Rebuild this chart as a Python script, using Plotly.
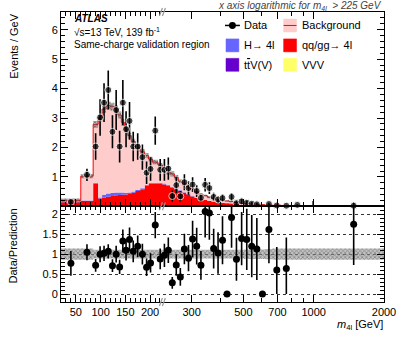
import numpy as np
import plotly.graph_objects as go
from plotly.subplots import make_subplots

# ---------------- data ----------------
bin_edges = [20, 60, 85, 95, 103, 111, 120, 128, 135, 142, 148, 155, 162, 170, 180, 189, 197, 205, 216, 225,
             234, 243, 253, 263, 274, 285, 297, 309, 322, 336, 350, 365, 381, 398, 416, 435, 455, 479, 504, 530,
             556, 586, 621, 666, 725, 804, 900, 1100, 2000]

data_obs = [0.15, 1.07, 2.03, 3.02, 3.52, 3.95, 2.53, 3.27, 2.03, 3.52,
            2.62, 2.90, 2.03, 2.03, 1.67, 1.14, 1.27, 2.57, 1.24, 1.24,
            1.28, 0.35, 0.72, 0.34, 0.82, 0.62, 0.74, 0.52, 0.29, 0.73,
            0.62, 0.32, 0.23, 0.28, None, 0.32, 0.11, 0.17, 0.12, 0.09,
            0.07, None, 0.08, 0.03, 0.02, 0.05, 0.0, 0.02]
data_err_up = [0.06, 0.21, 0.45, 0.62, 0.66, 0.66, 0.56, 0.68, 0.54, 0.77,
               0.61, 0.64, 0.50, 0.45, 0.43, 0.38, 0.40, 0.48, 0.37, 0.37,
               0.38, 0.19, 0.27, 0.18, 0.27, 0.23, 0.25, 0.20, 0.14, 0.23,
               0.20, 0.14, 0.12, 0.12, 0, 0.13, 0.07, 0.08, 0.07, 0.06,
               0.05, 0, 0.04, 0.02, 0.02, 0.02, 0.18, 0.12]
data_err_dn = [0.06, 0.21, 0.45, 0.62, 0.66, 0.66, 0.56, 0.68, 0.54, 0.77,
               0.61, 0.64, 0.50, 0.45, 0.43, 0.38, 0.40, 0.48, 0.37, 0.37,
               0.38, 0.19, 0.27, 0.18, 0.27, 0.23, 0.25, 0.20, 0.14, 0.23,
               0.20, 0.14, 0.12, 0.12, 0, 0.13, 0.07, 0.08, 0.07, 0.06,
               0.05, 0, 0.04, 0.02, 0.02, 0.02, 0.0, 0.02]

background = [0.04, 0.83, 1.98, 2.70, 2.91, 2.99, 2.92, 2.83, 2.63, 2.38,
              2.16, 1.93, 1.70, 1.45, 1.24, 0.99, 0.81, 0.70, 0.61, 0.51,
              0.43, 0.44, 0.38, 0.31, 0.27, 0.26, 0.23, 0.18, 0.15, 0.14,
              0.12, 0.10, 0.08, 0.08, 0.07, 0.06, 0.045, 0.04, 0.033, 0.028,
              0.02, 0.017, 0.015, 0.013, 0.01, 0.004, 0.002, 0.001]
qqgg_4l = [0.13, 0.16, 0.75, 0.24, 0.27, 0.30, 0.33, 0.35, 0.36, 0.37,
           0.38, 0.40, 0.44, 0.50, 0.56, 0.68, 0.74, 0.75, 0.74, 0.72,
           0.68, 0.62, 0.56, 0.50, 0.44, 0.38, 0.32, 0.27, 0.23, 0.20,
           0.17, 0.15, 0.13, 0.11, 0.10, 0.09, 0.075, 0.065, 0.055, 0.047,
           0.040, 0.034, 0.029, 0.024, 0.018, 0.010, 0.005, 0.003]
higgs_4l = [0.02, 0.02, 0.03, 0.04, 0.10, 0.11, 0.11, 0.10, 0.09, 0.08,
            0.06, 0.05, 0.04, 0.03, 0.03, 0.03, 0.03, 0.03, 0.03, 0.03,
            0.03, 0.02, 0.02, 0.02, 0.02, 0.02, 0.015, 0.015, 0.012, 0.01,
            0.01, 0.008, 0.007, 0.006, 0.005, 0.005, 0.004, 0.003, 0.003, 0.002,
            0.002, 0.002, 0.001, 0.001, 0.001, 0.0005, 0.0003, 0.0002]
ttv = [0.01, 0.015, 0.02, 0.02, 0.02, 0.02, 0.02, 0.02, 0.02, 0.02,
       0.02, 0.02, 0.02, 0.02, 0.02, 0.02, 0.02, 0.02, 0.02, 0.02,
       0.02, 0.02, 0.02, 0.02, 0.018, 0.016, 0.015, 0.014, 0.012, 0.011,
       0.01, 0.009, 0.008, 0.007, 0.006, 0.005, 0.005, 0.004, 0.004, 0.003,
       0.003, 0.002, 0.002, 0.002, 0.001, 0.001, 0.0005, 0.0003]
vvv = [0.002, 0.002, 0.003, 0.003, 0.003, 0.003, 0.003, 0.003, 0.003, 0.003,
       0.003, 0.003, 0.003, 0.003, 0.003, 0.003, 0.003, 0.003, 0.003, 0.003,
       0.003, 0.003, 0.003, 0.003, 0.002, 0.002, 0.002, 0.002, 0.002, 0.002,
       0.001, 0.001, 0.001, 0.001, 0.001, 0.001, 0.001, 0.001, 0.0005, 0.0005,
       0.0005, 0.0005, 0.0005, 0.0005, 0.0003, 0.0002, 0.0001, 0.0001]
mc_unc_top = [0.30, 0.07, 0.04, 0.04, 0.04, 0.04, 0.04, 0.04, 0.04, 0.04,
              0.04, 0.04, 0.04, 0.04, 0.05, 0.05, 0.05, 0.05, 0.05, 0.05,
              0.08, 0.08, 0.08, 0.08, 0.08, 0.08, 0.08, 0.08, 0.08, 0.08,
              0.12, 0.12, 0.12, 0.12, 0.12, 0.12, 0.12, 0.12, 0.12, 0.12,
              0.15, 0.15, 0.15, 0.15, 0.15, 0.15, 0.15, 0.15]

ratio_vals = [0.77, 1.05, 0.72, 1.00, 1.02, 1.07, 0.71, 1.00, 0.68, 1.33,
              1.10, 1.37, 1.07, 1.20, 1.00, 0.67, 0.78, 1.73, 0.88, 0.97,
              1.10, 0.28, 0.73, 0.43, 1.13, 0.90, 1.38, 1.20, 0.72, 2.07,
              2.03, 1.14, 1.03, 1.35, 0.00, 1.92, 0.87, 1.39, 1.37, 1.20,
              1.13, 0.00, 1.62, 0.60, 0.64, None, None, 1.75]
ratio_err_up = [0.31, 0.20, 0.16, 0.20, 0.19, 0.18, 0.16, 0.21, 0.18, 0.29,
                0.26, 0.30, 0.27, 0.27, 0.26, 0.22, 0.24, 0.33, 0.26, 0.29,
                0.32, 0.15, 0.27, 0.22, 0.38, 0.33, 0.46, 0.46, 0.36, 0.65,
                0.67, 0.50, 0.52, 0.60, 0, 0.76, 0.54, 0.67, 0.77, 0.78,
                0.78, 0, 0.85, 0.58, 0.78, 0, 0, 0.60]
ratio_err_dn = [0.31, 0.20, 0.16, 0.20, 0.19, 0.18, 0.16, 0.21, 0.18, 0.29,
                0.26, 0.30, 0.27, 0.27, 0.26, 0.22, 0.24, 0.33, 0.26, 0.29,
                0.32, 0.15, 0.27, 0.22, 0.38, 0.33, 0.46, 0.46, 0.36, 0.65,
                0.67, 0.50, 0.52, 0.60, 0, 0.76, 0.54, 0.67, 0.77, 0.78,
                0.78, 0, 0.85, 0.60, 0.64, 0, 0, 1.02]
ratio_band = [0.14, 0.14, 0.11, 0.11, 0.11, 0.11, 0.11, 0.11, 0.11, 0.11,
              0.11, 0.11, 0.11, 0.11, 0.11, 0.11, 0.11, 0.11, 0.11, 0.11,
              0.11, 0.11, 0.11, 0.11, 0.11, 0.11, 0.11, 0.11, 0.11, 0.11,
              0.11, 0.11, 0.11, 0.11, 0.11, 0.11, 0.11, 0.11, 0.12, 0.12,
              0.12, 0.12, 0.13, 0.14, 0.14, 0.14, 0.14, 0.14]

xtick_vals = [50, 100, 150, 200, 300, 500, 700, 1000, 2000]
xtick_minor = [30, 40, 60, 70, 80, 90, 110, 120, 130, 140, 160, 170, 180, 190, 210, 220,
               400, 600, 800, 900]
ytick_top = [1, 2, 3, 4, 5, 6]
ytick_ratio = [0, 0.5, 1, 1.5, 2]

# ---------------- axis transform: linear below 225 GeV, log above ----------------
BREAK = 225.0
LOG_UNITS = 472.0  # axis units per decade above the break


def to_axis(m):
    m = np.asarray(m, dtype=float)
    return np.where(m <= BREAK, m, BREAK + LOG_UNITS * np.log10(np.clip(m, BREAK, None) / BREAK))


ue = to_axis(bin_edges)
uc = (ue[:-1] + ue[1:]) / 2
XMIN, XMAX = float(to_axis(20)), float(to_axis(2000))

FONT = "Liberation Sans, Arial, Helvetica, sans-serif"
W, H = 407, 344
L, R, T, B = 61, 21, 11, 42
PW, PH = W - L - R, H - T - B


def px(x):
    return (x - L) / PW


def py(y):
    return (H - B - y) / PH


def step(vals):
    v = list(vals)
    return v + [v[-1]]


fig = make_subplots(rows=2, cols=1, shared_xaxes=True, vertical_spacing=0,
                    row_heights=[195 / 291, 96 / 291])

# ---------------- stacked predictions ----------------
layers = [
    ("VVV", vvv, "#ffff66"),
    ("ttV(V)", ttv, "#6600cc"),
    ("qq/gg->4l", qqgg_4l, "#ff0000"),
    ("H->4l", higgs_4l, "#6666ff"),
    ("Background", background, "#ffcccc"),
]
cum = np.zeros(len(vvv))
for i, (name, vals, col) in enumerate(layers):
    cum = cum + np.array(vals, dtype=float)
    is_bkg = name == "Background"
    fig.add_trace(go.Scatter(
        x=ue, y=step(cum), mode="lines", line_shape="hv",
        line=dict(color="#ff0000" if is_bkg else col, width=1 if is_bkg else 0),
        fill="tozeroy" if i == 0 else "tonexty", fillcolor=col,
        showlegend=False, hoverinfo="skip"), row=1, col=1)
total = cum
unc = np.array(mc_unc_top)
fig.add_trace(go.Scatter(x=ue, y=step(total * (1 - unc)), mode="lines", line_shape="hv",
                         line=dict(width=0), showlegend=False, hoverinfo="skip"), row=1, col=1)
fig.add_trace(go.Scatter(x=ue, y=step(total * (1 + unc)), mode="lines", line_shape="hv",
                         line=dict(width=0), fill="tonexty", fillcolor="rgba(70,70,70,0.55)",
                         fillpattern=dict(shape="x", size=3, solidity=0.4, fgcolor="#222222",
                                          bgcolor="rgba(90,90,90,0.45)"),
                         showlegend=False, hoverinfo="skip"), row=1, col=1)

# data points
msize = [0 if (v == 0) else 7 for v in data_obs]
fig.add_trace(go.Scatter(
    x=uc, y=data_obs, mode="markers", marker=dict(color="black", size=msize),
    error_y=dict(type="data", array=data_err_up, arrayminus=data_err_dn, color="black",
                 thickness=1.6, width=0),
    cliponaxis=False, showlegend=False, hoverinfo="skip"), row=1, col=1)

# ---------------- ratio panel ----------------
rb = np.array(ratio_band)
fig.add_trace(go.Scatter(x=ue, y=step(1 - rb), mode="lines", line_shape="hv",
                         line=dict(width=0), showlegend=False, hoverinfo="skip"), row=2, col=1)
fig.add_trace(go.Scatter(x=ue, y=step(1 + rb), mode="lines", line_shape="hv",
                         line=dict(width=0), fill="tonexty", fillcolor="rgba(120,120,120,0.6)",
                         fillpattern=dict(shape="x", size=3, solidity=0.4, fgcolor="#444444",
                                          bgcolor="rgba(150,150,150,0.6)"),
                         showlegend=False, hoverinfo="skip"), row=2, col=1)
fig.add_trace(go.Scatter(
    x=uc, y=ratio_vals, mode="markers", marker=dict(color="black", size=7),
    error_y=dict(type="data", array=ratio_err_up, arrayminus=ratio_err_dn, color="black",
                 thickness=1.6, width=0),
    showlegend=False, hoverinfo="skip"), row=2, col=1)

# ---------------- axes ----------------
xt = to_axis(xtick_vals).tolist()
xm = to_axis(xtick_minor).tolist()
xcommon = dict(range=[XMIN, XMAX], showline=True, linecolor="black", linewidth=1, mirror="ticks",
               ticks="inside", ticklen=7, tickcolor="black", tickwidth=1,
               tickmode="array", tickvals=xt, ticktext=[str(v) for v in xtick_vals],
               minor=dict(tickmode="array", tickvals=xm, ticks="inside", ticklen=4,
                          tickcolor="black", tickwidth=1, showgrid=False),
               showgrid=False, zeroline=False, tickfont=dict(family=FONT, size=11, color="black"))
fig.update_xaxes(**xcommon)
fig.update_xaxes(showticklabels=False, row=1, col=1)
fig.update_xaxes(showticklabels=True, row=2, col=1)

fig.update_yaxes(range=[0, 6.6], tickmode="array", tickvals=ytick_top, ticktext=[str(v) for v in ytick_top],
                 showline=True, linecolor="black", linewidth=1, mirror="ticks",
                 ticks="inside", ticklen=7, tickcolor="black",
                 minor=dict(dtick=0.2, tick0=0, ticks="inside", ticklen=4, tickcolor="black"),
                 showgrid=False, zeroline=False,
                 tickfont=dict(family=FONT, size=11, color="black"), row=1, col=1)
fig.update_yaxes(range=[-0.2, 2.2], tickmode="array", tickvals=ytick_ratio,
                 ticktext=["0", "0.5", "1", "1.5", "2"],
                 showline=True, linecolor="black", linewidth=1, mirror="ticks",
                 ticks="inside", ticklen=7, tickcolor="black",
                 minor=dict(dtick=0.1, tick0=0, ticks="inside", ticklen=4, tickcolor="black"),
                 showgrid=True, gridcolor="#333333", griddash="dot", gridwidth=1, zeroline=False,
                 tickfont=dict(family=FONT, size=11, color="black"), row=2, col=1)

# ---------------- annotations ----------------
ann = []


def text(x, y, s, size=11, xanchor="left", yanchor="middle", color="black", angle=0):
    ann.append(dict(x=px(x), y=py(y), xref="paper", yref="paper", text=s, showarrow=False,
                    xanchor=xanchor, yanchor=yanchor, textangle=angle,
                    font=dict(family=FONT, size=size, color=color)))


text(13, 11, "Events / GeV", size=11, xanchor="center", yanchor="top", angle=-90)
text(13, 246, "Data/Prediction", size=11, xanchor="center", yanchor="middle", angle=-90)
text(387, 325, "<i>m</i><sub>4l</sub> [GeV]", size=11, xanchor="right")
text(386, 5, "<i>x axis logarithmic for m<sub>4l</sub>  &gt; 225 GeV</i>", size=10, xanchor="right",
     color="#444444")
text(72, 18, "<b><i>ATLAS</i></b>", size=10)
text(72, 31.5, "√s=13 TeV, 139 fb<sup>-1</sup>", size=10)
text(72, 44, "Same-charge validation region", size=10)

shapes = []
# legend
rows_y = [24.5, 44.5, 64]
leg_left = [("Data", None), ("H\u2192 4l", "#6666ff"),
            ("t<span style='text-decoration:overline'>t</span>V(V)", "#6600cc")]
leg_right = [("Background", "#ffcccc"), ("qq/gg\u2192 4l", "#ff0000"), ("VVV", "#ffff66")]
for (lab, col), yy in zip(leg_left, rows_y):
    if col is None:
        shapes.append(dict(type="line", xref="paper", yref="paper", x0=px(226), x1=px(241),
                           y0=py(yy), y1=py(yy), line=dict(color="black", width=1.5)))
        shapes.append(dict(type="circle", xref="paper", yref="paper", x0=px(230), x1=px(237),
                           y0=py(yy + 3.5), y1=py(yy - 3.5), fillcolor="black",
                           line=dict(color="black", width=0)))
    else:
        shapes.append(dict(type="rect", xref="paper", yref="paper", x0=px(227), x1=px(240),
                           y0=py(yy + 6.5), y1=py(yy - 6.5), fillcolor=col,
                           line=dict(color=col, width=0.5)))
    text(243, yy, lab, size=11)
for (lab, col), yy in zip(leg_right, rows_y):
    shapes.append(dict(type="rect", xref="paper", yref="paper", x0=px(285), x1=px(298),
                       y0=py(yy + 6.5), y1=py(yy - 6.5), fillcolor=col,
                       line=dict(color=col, width=0.5)))
    if lab == "Background":
        shapes.append(dict(type="line", xref="paper", yref="paper", x0=px(285), x1=px(298),
                           y0=py(yy), y1=py(yy), line=dict(color="#ff0000", width=1)))
    text(301, yy, lab, size=11)

# axis-break marks at 225 GeV
xb = L + (float(to_axis(BREAK)) - XMIN) / (XMAX - XMIN) * PW
for yb in (206, 302, 11):
    for dx in (-1.5, 1.5):
        shapes.append(dict(type="line", xref="paper", yref="paper",
                           x0=px(xb + dx - 1.5), x1=px(xb + dx + 1.5),
                           y0=py(yb + 4), y1=py(yb - 4), line=dict(color="#999999", width=1.2)))

fig.update_layout(width=W, height=H, margin=dict(l=L, r=R, t=T, b=B),
                  paper_bgcolor="white", plot_bgcolor="white",
                  annotations=ann, shapes=shapes, showlegend=False,
                  font=dict(family=FONT, size=11, color="black"))

fig.write_html("out.html", config={"displayModeBar": False},
               post_script="document.body.style.margin='0px';")
